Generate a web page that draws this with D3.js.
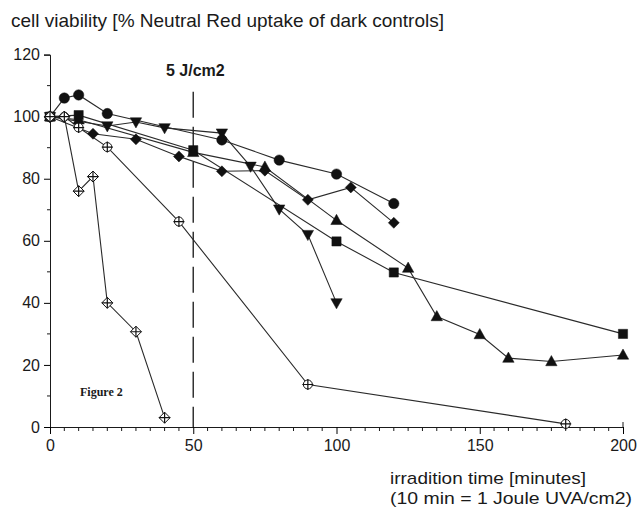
<!DOCTYPE html>
<html>
<head>
<meta charset="utf-8">
<script src="https://cdn.jsdelivr.net/npm/d3@7"></script>
<style>
  body { margin: 0; background: #fff; }
  text { font-family: "Liberation Sans", Arial, sans-serif; fill: #1a1a1a; }
</style>
</head>
<body>
<svg id="chart"></svg>
<script>
// data (time in minutes, viability in %)
var circleX   = [0, 5, 10, 20, 60, 80, 100, 120];
var circleY   = [100, 106, 107, 101, 92.5, 86, 81.5, 72];
var downX     = [0, 20, 30, 40, 60, 70, 80, 90, 100];
var downY     = [100, 97, 98.3, 96.4, 94.7, 84, 70.2, 62, 40];
var diamondX  = [0, 15, 30, 45, 60, 75, 90, 105, 120];
var diamondY  = [100, 94.5, 92.7, 87.2, 82.4, 82.6, 73.2, 77.2, 65.8];
var squareX   = [0, 10, 50, 100, 120, 200];
var squareY   = [100, 100.5, 89.2, 59.8, 49.8, 30];
var upX       = [0, 10, 50, 75, 100, 125, 135, 150, 160, 175, 200];
var upY       = [100, 99, 88.5, 83.8, 66.6, 51.2, 35.6, 29.8, 22.2, 21.1, 23.2];
var openCircX = [0, 5, 10, 20, 45, 90, 180];
var openCircY = [100, 100, 96.5, 90.2, 66.2, 13.7, 1];
var openDiaX  = [0, 5, 10, 15, 20, 30, 40];
var openDiaY  = [100, 100, 76, 80.7, 40, 30.7, 3];

var yTicks = [0, 20, 40, 60, 80, 100, 120];
var xTicks = [0, 50, 100, 150, 200];

var W = 638, H = 512;
var svg = d3.select("#chart").attr("width", W).attr("height", H);

var x = d3.scaleLinear().domain([0, 200]).range([50, 623]);
var y = d3.scaleLinear().domain([0, 120]).range([427, 54.6]);

// title
svg.append("text")
   .attr("x", 11).attr("y", 27)
   .attr("font-size", 19)
   .attr("textLength", 433).attr("lengthAdjust", "spacingAndGlyphs")
   .text("cell viability [% Neutral Red uptake of dark controls]");

// y axis: major ticks every 20, minor every 10
var yAxis = d3.axisLeft(y).tickValues(yTicks).tickSize(6).tickPadding(4);
var gy = svg.append("g").attr("transform", "translate(" + x(0) + ",0)").call(yAxis);
gy.selectAll("line").attr("y1", 0);
gy.selectAll(".tick text").attr("font-size", 16).attr("font-family", "Liberation Sans, Arial, sans-serif").attr("fill", "#1a1a1a");
gy.append("g").selectAll("line")
  .data(d3.range(10, 120, 20))
  .join("line")
  .attr("x1", -3).attr("x2", 0)
  .attr("y1", d => y(d)).attr("y2", d => y(d))
  .attr("stroke", "#1a1a1a");

// x axis: major every 50, minor every 5
var xAxis = d3.axisBottom(x).tickValues(xTicks).tickSize(7).tickPadding(6);
var gx = svg.append("g").attr("transform", "translate(0," + y(0) + ")").call(xAxis);
gx.selectAll(".tick text").attr("font-size", 16).attr("font-family", "Liberation Sans, Arial, sans-serif").attr("fill", "#1a1a1a");
gx.append("g").selectAll("line")
  .data(d3.range(5, 200, 5).filter(d => d % 50 !== 0))
  .join("line")
  .attr("x1", d => x(d)).attr("x2", d => x(d))
  .attr("y1", 0).attr("y2", 4)
  .attr("stroke", "#1a1a1a");
svg.selectAll(".domain").attr("stroke", "#1a1a1a");
// small cap at the end of the x axis
gx.append("line").attr("x1", x(200)).attr("x2", x(200)).attr("y1", 0).attr("y2", -5).attr("stroke", "#1a1a1a");

// dashed 5 J/cm2 marker
svg.append("line")
   .attr("x1", x(50)).attr("x2", x(50))
   .attr("y1", y(108)).attr("y2", y(0))
   .attr("stroke", "#333").attr("stroke-width", 1.5)
   .attr("stroke-dasharray", "26,9");
svg.append("text")
   .attr("x", 166).attr("y", 76)
   .attr("font-size", 16).attr("font-weight", "bold")
   .text("5 J/cm2");

// axis title
svg.append("text").attr("x", 390).attr("y", 484).attr("font-size", 17)
   .attr("textLength", 196).attr("lengthAdjust", "spacingAndGlyphs")
   .text("irradition time [minutes]");
svg.append("text").attr("x", 390).attr("y", 504).attr("font-size", 17)
   .attr("textLength", 242).attr("lengthAdjust", "spacingAndGlyphs")
   .text("(10 min = 1 Joule UVA/cm2)");

svg.append("text")
   .attr("x", 80).attr("y", 396)
   .attr("font-size", 12).attr("font-weight", "bold")
   .style("font-family", "Liberation Serif, Times New Roman, serif")
   .text("Figure 2");

// marker shapes
function triUp(s)   { return "M0," + (-s) + "L" + s * 0.95 + "," + s * 0.7 + "L" + (-s * 0.95) + "," + s * 0.7 + "Z"; }
function triDown(s) { return "M0," + s + "L" + s * 0.95 + "," + (-s * 0.7) + "L" + (-s * 0.95) + "," + (-s * 0.7) + "Z"; }
function dia(s)     { return "M0," + (-s) + "L" + s + ",0L0," + s + "L" + (-s) + ",0Z"; }
function sq(s)      { return "M" + (-s) + "," + (-s) + "h" + 2 * s + "v" + 2 * s + "h" + (-2 * s) + "Z"; }
function circ(s)    { return d3.symbol(d3.symbolCircle, Math.PI * s * s)(); }
function cross(s)   { return "M" + (-s) + ",0H" + s + "M0," + (-s) + "V" + s; }

var series = [
  { xs: squareX,   ys: squareY,   shape: sq(4.6),      open: false },
  { xs: upX,       ys: upY,       shape: triUp(6),     open: false },
  { xs: diamondX,  ys: diamondY,  shape: dia(5.5),     open: false },
  { xs: downX,     ys: downY,     shape: triDown(6),   open: false },
  { xs: circleX,   ys: circleY,   shape: circ(5.2),    open: false },
  { xs: openCircX, ys: openCircY, shape: circ(4.5),    open: true, crossSize: 5.5 },
  { xs: openDiaX,  ys: openDiaY,  shape: dia(5.5),     open: true, crossSize: 5.5 }
];

var line = d3.line().x(d => x(d[0])).y(d => y(d[1]));

series.forEach(function (s) {
  var pts = s.xs.map((v, i) => [v, s.ys[i]]);
  svg.append("path")
     .attr("d", line(pts))
     .attr("fill", "none")
     .attr("stroke", "#2a2a2a")
     .attr("stroke-width", 1.1);
});

series.forEach(function (s) {
  var pts = s.xs.map((v, i) => [v, s.ys[i]]);
  var g = svg.append("g").selectAll("g").data(pts).join("g")
     .attr("transform", d => "translate(" + x(d[0]) + "," + y(d[1]) + ")");
  g.append("path")
   .attr("d", s.shape)
   .attr("fill", s.open ? "#fff" : "#111")
   .attr("stroke", "#111")
   .attr("stroke-width", s.open ? 1 : 0.5);
  if (s.open) {
    g.append("path").attr("d", cross(s.crossSize)).attr("stroke", "#111").attr("stroke-width", 1.2);
  }
});
</script>
</body>
</html>
